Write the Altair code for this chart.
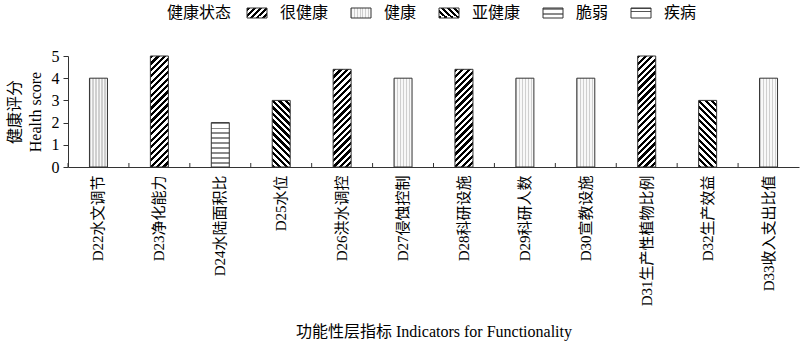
import altair as alt
import pandas as pd

# ---------------- data ----------------
codes = ["D22水文调节", "D23净化能力", "D24水陆面积比", "D25水位", "D26洪水调控",
         "D27侵蚀控制", "D28科研设施", "D29科研人数", "D30宣教设施",
         "D31生产性植物比例", "D32生产效益", "D33收入支出比值"]
scores = [4, 5, 2, 3, 4.4, 4, 4.4, 4, 4, 5, 3, 4]
status = ["健康", "很健康", "脆弱", "亚健康", "很健康", "健康", "很健康",
          "健康", "健康", "很健康", "亚健康", "健康"]
legend_items = ["很健康", "健康", "亚健康", "脆弱", "疾病"]
legend_title = "健康状态"
x_title = "功能性层指标 Indicators for Functionality"
y_title = ["健康评分", "Health score"]
y_ticks = [0, 1, 2, 3, 4, 5]

# ---------------- layout / style ----------------
W, H = 731, 111
YMAX = 5
BAR_W = 18
FONT = "Liberation Serif, Noto Sans CJK SC"
INK = "#333333"


def stripes(w, h, kind, period, frac, color, bg="#ffffff"):
    if kind == "/":
        s = (w + h) / (w * w + h * h)
        x1, y1, x2, y2 = 0, 0, w * s, h * s
        L = w + h
    elif kind == "\\":
        s = (w + h) / (w * w + h * h)
        x1, y1, x2, y2 = 0, 1, w * s, 1 - h * s
        L = w + h
    elif kind == "h":
        x1, y1, x2, y2 = 0, 0, 0, 1
        L = h
    else:  # vertical
        x1, y1, x2, y2 = 0, 0, 1, 0
        L = w
    n = max(1, round(L / period))
    stops = []
    for i in range(n):
        a, b, c = i / n, (i + frac) / n, (i + 1) / n
        stops += [{"offset": a, "color": color}, {"offset": b, "color": color},
                  {"offset": b, "color": bg}, {"offset": c, "color": bg}]
    return {"gradient": "linear", "x1": x1, "y1": y1, "x2": x2, "y2": y2,
            "stops": stops}


def pattern_for(st, w, h):
    if st == "很健康":
        return stripes(w, h, "/", 6.5, 0.5, "#000000")
    if st == "亚健康":
        return stripes(w, h, "\\", 6.5, 0.5, "#000000")
    if st == "脆弱":
        return stripes(w, h, "h", 4.7, 0.35, "#8a8a8a")
    if st == "疾病":
        return stripes(w, h, "h", 3.4, 0.22, "#555555")
    return stripes(w, h, "v", 3.0, 0.35, "#cfcfcf", "#f8f8f8")


df = pd.DataFrame({"code": codes, "score": scores, "status": status})

xscale = alt.Scale(domain=codes, paddingInner=0, paddingOuter=0)
yscale = alt.Scale(domain=[0, YMAX], nice=False)

xaxis = alt.Axis(labelAngle=270, labelFontSize=15, labelFont=FONT, labelColor="#000",
                 labelPadding=8, ticks=False, domainColor=INK, grid=False,
                 title=x_title, titleFont=FONT, titleFontSize=16,
                 titleFontWeight="normal", titleColor="#000", titlePadding=18,
                 labelLimit=0)
yaxis = alt.Axis(values=y_ticks, tickSize=5, tickColor=INK,
                 domainColor=INK, grid=False, labelFont=FONT, labelFontSize=16,
                 labelColor="#000", labelPadding=4, labelOverlap=False,
                 title=y_title, titleFont=FONT, titleFontSize=16,
                 titleFontWeight="normal", titleColor="#000", titlePadding=8,
                 titleLineHeight=21)

layers = []
for c, v, st in zip(codes, scores, status):
    h = v * H / YMAX
    layers.append(
        alt.Chart(df).transform_filter(alt.datum.code == c)
        .mark_bar(size=BAR_W, fill=pattern_for(st, BAR_W, h), stroke=INK, strokeWidth=1)
        .encode(x=alt.X("code:N", scale=xscale, axis=xaxis, sort=codes),
                y=alt.Y("score:Q", scale=yscale, axis=yaxis))
    )

# inward x ticks at band boundaries
layers.append(
    alt.Chart(df).mark_rule(color=INK, strokeWidth=1)
    .encode(x=alt.X("code:N", bandPosition=0, scale=xscale, axis=xaxis, sort=codes),
            y=alt.YDatum(0, type="quantitative", scale=yscale, axis=yaxis),
            y2=alt.Y2Datum(0.18))
)

# ---------------- manual legend ----------------
title_x = 99
sx = []
pos = 179
for it in legend_items:
    sx.append(pos)
    pos += 33 + 16 * len(it) + 23
leg = pd.DataFrame({"item": legend_items, "sx": sx,
                    "sx2": [p + 20 for p in sx], "tx": [p + 33 for p in sx]})

for it in legend_items:
    layers.append(
        alt.Chart(leg).transform_filter(alt.datum.item == it)
        .mark_rect(fill=pattern_for(it, 20, 10), stroke=INK, strokeWidth=1)
        .encode(x=alt.X("sx:Q", scale=None, axis=None), x2="sx2:Q",
                y=alt.value(-48), y2=alt.value(-38))
    )
layers.append(
    alt.Chart(leg).mark_text(align="left", baseline="middle", font=FONT,
                             fontSize=16, color="#000")
    .encode(x=alt.X("tx:Q", scale=None, axis=None), y=alt.value(-43), text="item:N")
)
layers.append(
    alt.Chart(pd.DataFrame({"t": [legend_title], "tx": [title_x]}))
    .mark_text(align="left", baseline="middle", font=FONT, fontSize=16, color="#000")
    .encode(x=alt.X("tx:Q", scale=None, axis=None), y=alt.value(-43), text="t:N")
)

chart = (
    alt.layer(*layers)
    .properties(width=W, height=H,
                autosize=alt.AutoSizeParams(type="none"),
                padding={"left": 68, "top": 56, "right": 1, "bottom": 184})
    .configure_view(stroke=None)
)

chart.save("out.html", embed_options={"renderer": "svg", "actions": False})
